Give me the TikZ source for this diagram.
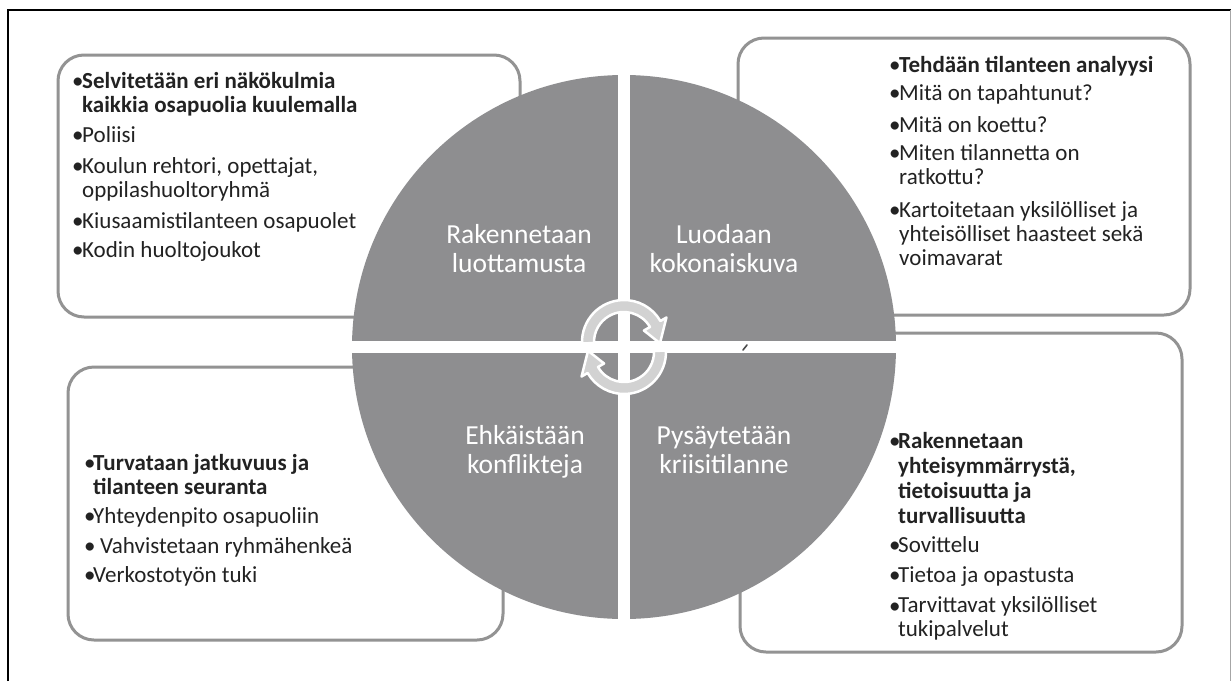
\documentclass[tikz,border=0pt]{standalone}
\usepackage{fontspec}
\setmainfont{Carlito}
\usetikzlibrary{calc}
\definecolor{circ}{HTML}{8E8E90}
\definecolor{boxline}{HTML}{939393}
\definecolor{txt}{HTML}{222222}
\definecolor{arrowin}{HTML}{D2D2D2}
\begin{document}
\begin{tikzpicture}[x=1pt,y=-1pt,
  infobox/.style={draw=boxline, line width=3pt, rounded corners=26pt, fill=white},
  item/.style={anchor=base west, inner sep=0pt, align=left, font=\fontsize{23}{24}\selectfont, text=txt},
  bitem/.style={item, font=\fontsize{23}{24}\selectfont\bfseries},
  bul/.style={anchor=base west, inner sep=0pt, font=\fontsize{23}{24}\selectfont, text=txt},
  lab/.style={anchor=base, inner sep=0pt, align=center, font=\fontsize{27.5}{29}\selectfont, text=white},
  cyc/.style={fill=arrowin, draw=white, line width=2.5pt, line join=round}]
\useasboundingbox (0,0) rectangle (1232,681);
\fill[white] (0,0) rectangle (1232,681);
% outer frame
\draw[black, line width=2pt] (8,681) -- (8,10) -- (1231,10);
\draw[gray!70, line width=1pt] (1230,10) -- (1230,681);
% boxes
\draw[infobox] (58,55) rectangle (520,317);
\draw[infobox] (738,38) rectangle (1190,315);
\draw[infobox] (68,367) rectangle (503,640);
\draw[infobox] (740,333) rectangle (1182,652);
% circle
\coordinate (C) at (624,347);
\fill[circ] (C) circle[radius=272];
\fill[white] (340,341) rectangle (910,353);
\fill[white] (618,65) rectangle (630,630);
\draw[gray!60!black, line width=1.6pt, line cap=round] (743,350) -- (747,345);
% cycle arrows
\coordinate (A) at (624,342);
\coordinate (B) at (624,352);
\draw[cyc] ($(A)+(178:42)$) arc[start angle=178, end angle=330, radius=42]
  -- ($(A)+(330:49)$) -- ($(A)+(2:36)$) -- ($(A)+(330:23)$) -- ($(A)+(330:30)$)
  arc[start angle=330, end angle=178, radius=30] -- cycle;
\draw[cyc] ($(B)+(358:42)$) arc[start angle=358, end angle=510, radius=42]
  -- ($(B)+(150:49)$) -- ($(B)+(182:36)$) -- ($(B)+(150:23)$) -- ($(B)+(150:30)$)
  arc[start angle=510, end angle=358, radius=30] -- cycle;
% circle labels (base = last line)
\node[lab] (q1) at (519,272) {Rakennetaan\\luottamusta};
\node[lab] (q2) at (724,272) {Luodaan\\kokonaiskuva};
\node[lab] (q3) at (525,473) {Ehkäistään\\konflikteja};
\node[lab] (q4) at (724,473) {Pysäytetään\\kriisitilanne};
% top-left box
\node[bul] (tlb1) at (72,88) {•};
\node[bitem] (tl1) at (82,112) {Selvitetään eri näkökulmia\\kaikkia osapuolia kuulemalla};
\node[bul] (tlb2) at (72,142) {•};
\node[item] (tl2) at (82,142) {Poliisi};
\node[bul] (tlb3) at (72,173) {•};
\node[item] (tl3) at (82,197) {Koulun rehtori, opettajat,\\oppilashuoltoryhmä};
\node[bul] (tlb4) at (72,228) {•};
\node[item] (tl4) at (82,228) {Kiusaamistilanteen osapuolet};
\node[bul] (tlb5) at (72,257) {•};
\node[item] (tl5) at (82,257) {Kodin huoltojoukot};
% top-right box
\node[bul] (trb1) at (889,72) {•};
\node[bitem] (tr1) at (899,72) {Tehdään tilanteen analyysi};
\node[bul] (trb2) at (889,100) {•};
\node[item] (tr2) at (899,100) {Mitä on tapahtunut?};
\node[bul] (trb3) at (889,132) {•};
\node[item] (tr3) at (899,132) {Mitä on koettu?};
\node[bul] (trb4) at (889,160) {•};
\node[item] (tr4) at (899,184) {Miten tilannetta on\\ratkottu?};
\node[bul] (trb5) at (889,217) {•};
\node[item] (tr5) at (899,265) {Kartoitetaan yksilölliset ja\\yhteisölliset haasteet sekä\\voimavarat};
% bottom-left box
\node[bul] (blb1) at (84,470) {•};
\node[bitem] (bl1) at (93,494) {Turvataan jatkuvuus ja\\tilanteen seuranta};
\node[bul] (blb2) at (84,523) {•};
\node[item] (bl2) at (93,523) {Yhteydenpito osapuoliin};
\node[bul] (blb3) at (84,553) {•};
\node[item] (bl3) at (100,553) {Vahvistetaan ryhmähenkeä};
\node[bul] (blb4) at (84,582) {•};
\node[item] (bl4) at (93,582) {Verkostotyön tuki};
% bottom-right box
\node[bul] (brb1) at (889,448) {•};
\node[bitem, font=\fontsize{23}{25}\selectfont\bfseries] (br1) at (898,523) {Rakennetaan\\yhteisymmärrystä,\\tietoisuutta ja\\turvallisuutta};
\node[bul] (brb2) at (889,552) {•};
\node[item] (br2) at (898,552) {Sovittelu};
\node[bul] (brb3) at (889,582) {•};
\node[item] (br3) at (898,582) {Tietoa ja opastusta};
\node[bul] (brb4) at (889,613) {•};
\node[item] (br4) at (898,636) {Tarvittavat yksilölliset\\tukipalvelut};
\end{tikzpicture}
\end{document}
